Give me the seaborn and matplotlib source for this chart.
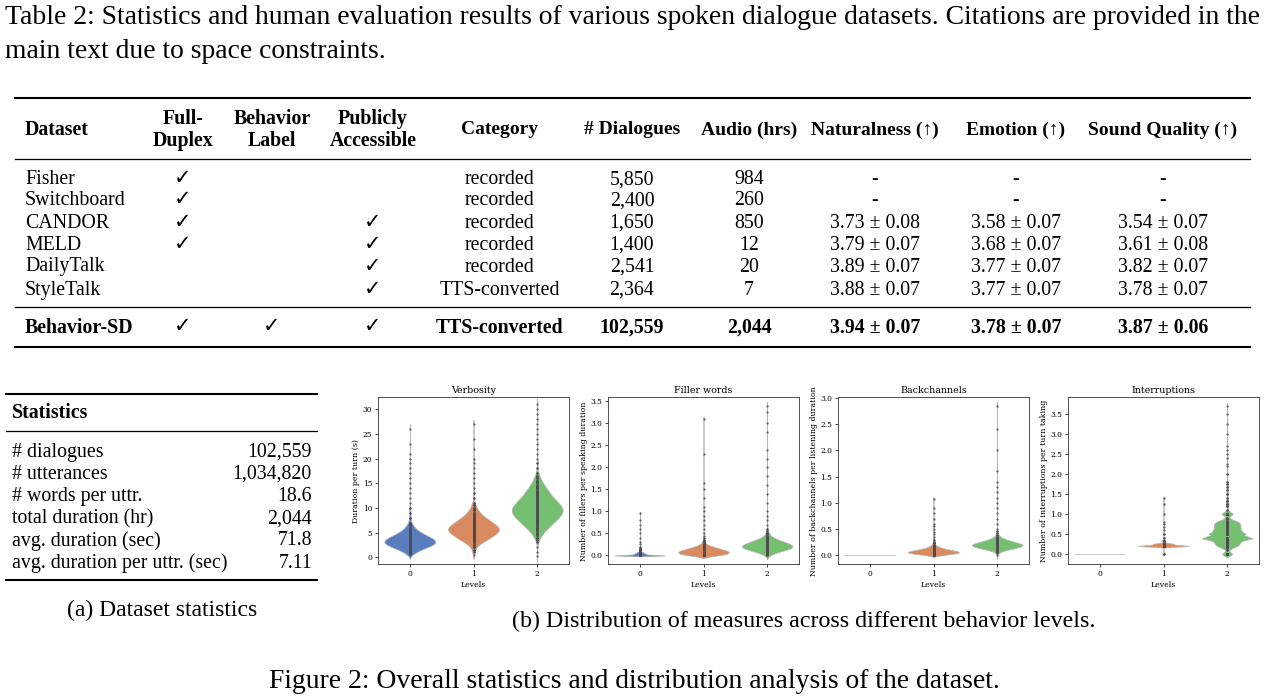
import numpy as np
import pandas as pd
import matplotlib
matplotlib.use("Agg")
import matplotlib.pyplot as plt
import seaborn as sns
from matplotlib.lines import Line2D

W, H = 1265, 696

# ---- Table 2 ----
datasets = ["Fisher", "Switchboard", "CANDOR", "MELD", "DailyTalk", "StyleTalk", "Behavior-SD"]
full_duplex = [True, True, True, True, False, False, True]
behavior_label = [False, False, False, False, False, False, True]
publicly_accessible = [False, False, True, True, True, True, True]
category = ["recorded", "recorded", "recorded", "recorded", "recorded", "TTS-converted", "TTS-converted"]
n_dialogues = ["5,850", "2,400", "1,650", "1,400", "2,541", "2,364", "102,559"]
audio_hrs = ["984", "260", "850", "12", "20", "7", "2,044"]
naturalness = ["-", "-", "3.73 ± 0.08", "3.79 ± 0.07", "3.89 ± 0.07", "3.88 ± 0.07", "3.94 ± 0.07"]
emotion = ["-", "-", "3.58 ± 0.07", "3.68 ± 0.07", "3.77 ± 0.07", "3.77 ± 0.07", "3.78 ± 0.07"]
sound_quality = ["-", "-", "3.54 ± 0.07", "3.61 ± 0.08", "3.82 ± 0.07", "3.78 ± 0.07", "3.87 ± 0.06"]

# ---- dataset statistics ----
stat_names = ["# dialogues", "# utterances", "# words per uttr.", "total duration (hr)",
              "avg. duration (sec)", "avg. duration per uttr. (sec)"]
stat_values = ["102,559", "1,034,820", "18.6", "2,044", "71.8", "7.11"]

# ---- violin data: values with rough counts ----
levels = ["0", "1", "2"]

verb0_vals = [0.6, 1.0, 1.5, 2.0, 2.5, 3.0, 3.5, 4.0, 4.5, 5.0, 5.5, 6.0, 6.5, 7.0, 8, 9, 10, 11, 12, 13,
              14, 15, 16, 17, 18, 19, 20, 21, 23, 26]
verb0_cnts = [4, 10, 20, 32, 44, 50, 48, 40, 30, 21, 14, 9, 6, 4, 3, 2, 2, 1, 1, 1,
              1, 1, 1, 1, 1, 1, 1, 1, 1, 1]
verb1_vals = [0.5, 1.0, 1.5, 2.0, 2.5, 3.0, 3.5, 4.0, 4.5, 5.0, 5.5, 6.0, 6.5, 7.0, 7.5, 8.0, 8.5, 9.0,
              9.5, 10.0, 10.5, 11.0, 12, 13, 14, 15, 16, 17, 18, 19, 20, 22, 24, 27]
verb1_cnts = [1, 2, 3, 5, 9, 16, 24, 31, 38, 44, 48, 47, 42, 36, 29, 23, 17, 12,
              9, 6, 4, 3, 2, 2, 1, 1, 1, 1, 1, 1, 1, 1, 1, 1]
verb2_vals = [0.3, 1, 2, 3.0, 3.5, 4.0, 4.5, 5.0, 5.5, 6.0, 6.5, 7.0, 7.5, 8.0, 8.5, 9.0, 9.5, 10.0,
              10.5, 11.0, 11.5, 12.0, 12.5, 13.0, 13.5, 14.0, 14.5, 15.0, 15.5, 16.0, 16.5, 17.0,
              18, 19, 20, 21, 22, 23, 24, 25, 26, 27, 28, 29, 30, 31]
verb2_cnts = [1, 1, 1, 2, 3, 5, 8, 11, 15, 19, 24, 28, 33, 37, 41, 44, 45, 44,
              41, 37, 33, 29, 25, 22, 19, 16, 13, 10, 8, 6, 4, 3,
              2, 2, 1, 1, 1, 1, 1, 1, 1, 1, 1, 1, 1, 1]

fill0_vals = [0.0, 0.01, 0.02, 0.03, 0.04, 0.05, 0.06, 0.07, 0.08, 0.09, 0.10, 0.12, 0.14, 0.17,
              0.2, 0.25, 0.3, 0.4, 0.5, 0.6, 0.7, 0.8, 0.97]
fill0_cnts = [300, 30, 34, 34, 31, 27, 22, 17, 13, 9, 6, 4, 3, 2,
              2, 1, 1, 1, 1, 1, 1, 1, 1]
fill1_vals = [0.0, 0.02, 0.04, 0.06, 0.08, 0.10, 0.12, 0.14, 0.16, 0.18, 0.20, 0.22, 0.24, 0.27,
              0.30, 0.33, 0.36, 0.4, 0.45, 0.5, 0.6, 0.7, 0.8, 0.9, 1.0, 1.1, 1.3, 1.5, 1.65, 2.3, 3.1]
fill1_cnts = [38, 44, 49, 52, 52, 49, 44, 37, 30, 24, 18, 14, 10, 7,
              5, 3, 2, 2, 1, 1, 1, 1, 1, 1, 1, 1, 1, 1, 1, 1, 1]
fill2_vals = [0.0, 0.03, 0.06, 0.09, 0.12, 0.15, 0.18, 0.21, 0.24, 0.27, 0.30, 0.33, 0.36, 0.39,
              0.42, 0.45, 0.48, 0.52, 0.56, 0.6, 0.7, 0.8, 0.9, 1.0, 1.2, 1.4, 1.6, 1.8, 2.0, 2.2,
              2.4, 2.8, 3.0, 3.25, 3.4]
fill2_cnts = [4, 8, 14, 22, 32, 42, 49, 50, 46, 40, 33, 26, 19, 13,
              9, 6, 4, 3, 2, 2, 1, 1, 1, 1, 1, 1, 1, 1, 1, 1,
              1, 1, 1, 1, 1]

back0_vals = [0.0]
back0_cnts = [200]
back1_vals = [0.0, 0.02, 0.04, 0.06, 0.08, 0.10, 0.12, 0.14, 0.16, 0.18, 0.20, 0.23, 0.26, 0.3,
              0.35, 0.4, 0.45, 0.5, 0.55, 0.6, 0.7, 0.8, 0.9, 1.08]
back1_cnts = [10, 28, 46, 52, 46, 34, 24, 16, 10, 6, 4, 3, 2, 2,
              1, 1, 1, 1, 1, 1, 1, 1, 1, 1]
back2_vals = [0.0, 0.04, 0.07, 0.09, 0.11, 0.13, 0.15, 0.17, 0.19, 0.21, 0.23, 0.25, 0.27, 0.29,
              0.31, 0.33, 0.35, 0.38, 0.42, 0.46, 0.5, 0.6, 0.7, 0.8, 0.9, 1.0, 1.1, 1.2, 1.3, 1.4,
              1.6, 2.0, 2.4, 2.85]
back2_cnts = [1, 1, 3, 7, 14, 24, 36, 46, 50, 46, 38, 30, 22, 16,
              11, 8, 5, 3, 2, 2, 1, 1, 1, 1, 1, 1, 1, 1, 1, 1,
              1, 1, 1, 1]

intr0_vals = [0.0]
intr0_cnts = [200]
intr1_vals = [0.0, 0.2, 0.25, 0.33, 0.4, 0.5, 0.6, 0.67, 0.75, 0.8, 1.0, 1.25, 1.4]
intr1_cnts = [3, 55, 22, 5, 2, 2, 1, 1, 1, 1, 1, 1, 1]
intr2_vals = [0.0, 0.1, 0.14, 0.17, 0.2, 0.25, 0.29, 0.33, 0.4, 0.5, 0.57, 0.6, 0.67, 0.71, 0.75,
              0.8, 0.83, 0.86, 0.9, 1.0, 1.1, 1.2, 1.25, 1.33, 1.4, 1.5, 1.6, 1.67, 1.75, 1.8,
              2.0, 2.2, 2.25, 2.4, 2.5, 2.6, 2.7, 3.0, 3.25, 3.5, 3.7]
intr2_cnts = [20, 3, 4, 8, 20, 25, 15, 30, 90, 62, 20, 30, 35, 10, 30,
              20, 8, 5, 3, 22, 2, 3, 3, 3, 2, 3, 2, 2, 2, 2,
              2, 1, 1, 1, 1, 1, 1, 1, 1, 1, 1]

panels = [
    ("Verbosity", "Duration per turn (s)",
     [(verb0_vals, verb0_cnts), (verb1_vals, verb1_cnts), (verb2_vals, verb2_cnts)], 0.15, (-1.42, 32.4)),
    ("Filler words", "Number of fillers per speaking duration",
     [(fill0_vals, fill0_cnts), (fill1_vals, fill1_cnts), (fill2_vals, fill2_cnts)], 0.12, (-0.2, 3.59)),
    ("Backchannels", "Number of backchannels per listening duration",
     [(back0_vals, back0_cnts), (back1_vals, back1_cnts), (back2_vals, back2_cnts)], 0.15, (-0.17, 3.01)),
    ("Interruptions", "Number of interruptions per turn taking",
     [(intr0_vals, intr0_cnts), (intr1_vals, intr1_cnts), (intr2_vals, intr2_cnts)], 0.085, (-0.26, 3.91)),
]

plt.rcParams["font.family"] = "serif"
fig = plt.figure(figsize=(W / 100, H / 100), dpi=100)

TIMES = ["Liberation Serif", "DejaVu Sans"]


def put(x, y, s, size=14.3, ha="left", weight="normal"):
    fig.text(x / W, 1 - y / H, s, fontsize=size, ha=ha, va="center",
             family=TIMES, fontweight=weight)


def rule(x0, x1, y, lw):
    fig.add_artist(Line2D([x0 / W, x1 / W], [1 - y / H, 1 - y / H],
                          transform=fig.transFigure, color="black", lw=lw))


# caption of table 2
put(5, 17, "Table 2: Statistics and human evaluation results of various spoken dialogue datasets. "
    "Citations are provided in the", size=19.9)
put(5, 52, "main text due to space constraints.", size=19.9)

# table 2
rule(15, 1250, 98, 1.5)
rule(15, 1250, 159, 0.9)
rule(15, 1250, 307, 0.9)
rule(15, 1250, 347, 1.5)

col_x = [183, 272, 373, 500, 632, 749, 875, 1016, 1163]
put(25, 130, "Dataset", weight="bold")
two_line = {0: ("Full-", "Duplex"), 1: ("Behavior", "Label"), 2: ("Publicly", "Accessible")}
for i, (a, b) in two_line.items():
    put(col_x[i], 119, a, ha="center", weight="bold")
    put(col_x[i], 141, b, ha="center", weight="bold")
one_line = ["Category", "# Dialogues", "Audio (hrs)", "Naturalness (↑)", "Emotion (↑)", "Sound Quality (↑)"]
for i, t in enumerate(one_line):
    put(col_x[i + 3], 130, t, ha="center", weight="bold", size=14)

row_y = [180, 201, 223, 245, 267, 290, 328]
for r, name in enumerate(datasets):
    w = "bold" if r == len(datasets) - 1 else "normal"
    y = row_y[r]
    put(25, y, name, weight=w)
    for c, flag in enumerate([full_duplex[r], behavior_label[r], publicly_accessible[r]]):
        if flag:
            put(col_x[c], y, "✓", ha="center", size=15)
    cells = [category[r], n_dialogues[r], audio_hrs[r], naturalness[r], emotion[r], sound_quality[r]]
    for c, t in enumerate(cells):
        put(col_x[c + 3], y, t, ha="center", weight=w)

# statistics table
rule(6, 317, 394, 1.5)
rule(6, 317, 431, 0.9)
rule(6, 317, 580, 1.5)
put(12, 413, "Statistics", weight="bold")
for i, (n, v) in enumerate(zip(stat_names, stat_values)):
    y = 452 + i * 22.2
    put(12, y, n)
    put(312, y, v, ha="right")
put(162, 610, "(a) Dataset statistics", size=17, ha="center")

# violin panels
palette = sns.color_palette("muted", 3)
for k, (title, ylabel, groups, bw, ylim) in enumerate(panels):
    ax = fig.add_axes([(378 + 230 * k) / W, 1 - 564.3 / H, 191 / W, 167 / H])
    frames = []
    for lev, (vals, cnts) in zip(levels, groups):
        frames.append(pd.DataFrame({"level": lev, "value": np.repeat(vals, cnts)}))
    df = pd.concat(frames, ignore_index=True)
    sns.violinplot(data=df, x="level", y="value", hue="level", order=levels, hue_order=levels,
                   palette=palette, legend=False, ax=ax, inner="point", density_norm="width",
                   bw_method=bw, linewidth=0.5, linecolor=".7",
                   inner_kws=dict(color=".3", edgecolor=".3", s=0.25))
    ax.set_ylim(*ylim)
    ax.set_title(title, fontsize=6.8, pad=3)
    ax.set_xlabel("Levels", fontsize=5.6, labelpad=2)
    ax.set_ylabel(ylabel, fontsize=5.6, labelpad=2)
    ax.tick_params(labelsize=5.4, length=2.2, width=0.5, pad=2)
    for s in ax.spines.values():
        s.set_linewidth(0.6)
        s.set_color("0.2")

put(804, 621, "(b) Distribution of measures across different behavior levels.", size=17.3, ha="center")
put(634, 681, "Figure 2: Overall statistics and distribution analysis of the dataset.", size=19.9, ha="center")

fig.savefig("out.png", dpi=100)
